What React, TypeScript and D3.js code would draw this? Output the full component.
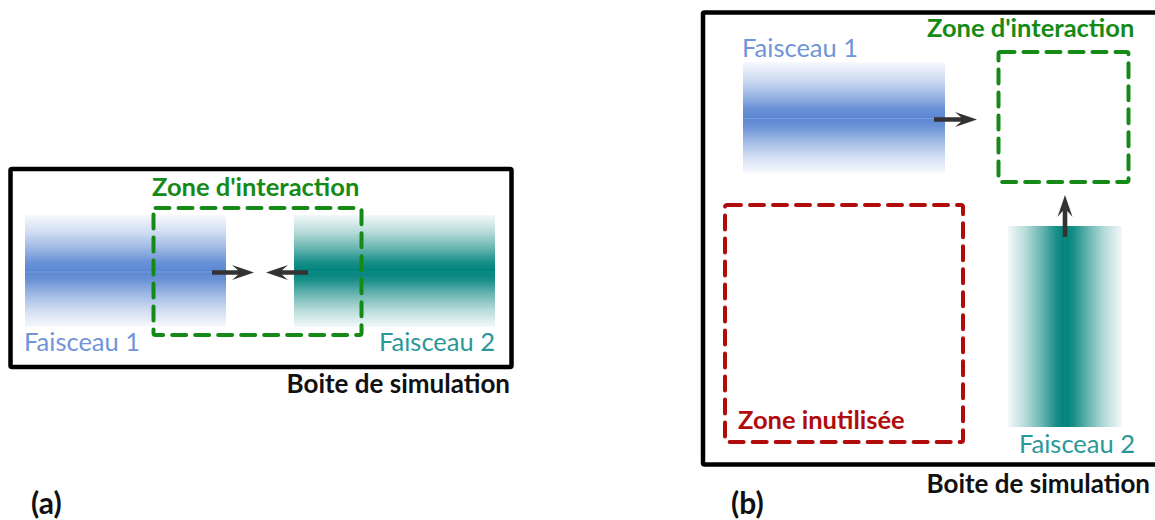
import React from "react";
import * as d3 from "d3";

// Labels / content
const panelLabels = ["(a)", "(b)"];
const beamNames = ["Faisceau 1", "Faisceau 2"];
const zoneLabels = ["Zone d'interaction", "Zone inutilisée"];
const boxLabel = "Boite de simulation";
const beamColors = ["#5a86d2", "#00827c"];
const beamTextColors = ["#6f95d8", "#2a9898"];
const green = "#168a16";
const red = "#b00c0c";
const arrowColor = "#333333";
// Gaussian-ish profile of the beams (opacity across width)
const profileOffsets = [0, 0.15, 0.3, 0.42, 0.5, 0.58, 0.7, 0.85, 1];
const profileOpacity = [0.05, 0.28, 0.6, 0.9, 1, 0.9, 0.6, 0.28, 0.05];

const W = 1155;
const H = 520;
const font = "Lato, 'Open Sans', sans-serif";

function arrowPath(x0: number, y0: number, x1: number, y1: number) {
  const len = Math.hypot(x1 - x0, y1 - y0);
  const a = Math.atan2(y1 - y0, x1 - x0);
  const hl = 22, hw = 7.5, notch = 6, sw = 2.3;
  const pts: [number, number][] = [
    [0, -sw], [len - hl + notch, -sw], [len - hl, -hw], [len, 0],
    [len - hl, hw], [len - hl + notch, sw], [0, sw],
  ];
  const rot = pts.map(([u, v]) => [
    x0 + u * Math.cos(a) - v * Math.sin(a),
    y0 + u * Math.sin(a) + v * Math.cos(a),
  ] as [number, number]);
  return d3.line()(rot) + "Z";
}

function Stops({ color }: { color: string }) {
  return (
    <>
      {profileOffsets.map((o, i) => (
        <stop key={i} offset={o} stopColor={color} stopOpacity={profileOpacity[i]} />
      ))}
    </>
  );
}

export default function App() {
  const dash = "14 9";
  const zf = 25.5, bf = 25.5, lf = 26, pf = 30;
  return (
    <svg width={W} height={H} style={{ position: "absolute", left: 0, top: 0, background: "#fff" }}
      fontFamily={font}>
      <defs>
        <linearGradient id="blueH" x1="0" y1="0" x2="0" y2="1"><Stops color={beamColors[0]} /></linearGradient>
        <linearGradient id="tealH" x1="0" y1="0" x2="0" y2="1"><Stops color={beamColors[1]} /></linearGradient>
        <linearGradient id="tealV" x1="0" y1="0" x2="1" y2="0"><Stops color={beamColors[1]} /></linearGradient>
      </defs>
      <rect width={W} height={H} fill="#fff" />

      {/* ===== Panel (a) ===== */}
      <rect x={10.5} y={169} width={501} height={198} fill="none" stroke="#000" strokeWidth={4.5} rx={1.5} />
      <rect x={25} y={215} width={201} height={112} fill="url(#blueH)" />
      <line x1={25} x2={226} y1={272} y2={272} stroke="#8fb0e6" strokeWidth={0.8} opacity={0.7} />
      <rect x={294} y={215} width={201} height={112} fill="url(#tealH)" />
      <line x1={294} x2={495} y1={272} y2={272} stroke="#2a9a94" strokeWidth={0.8} opacity={0.7} />
      <rect x={153.5} y={208} width={208} height={127} fill="none" stroke={green} strokeWidth={4}
        strokeDasharray={dash} strokeLinecap="round" rx={2} />
      <text x={152} y={196} fill={green} fontSize={zf} fontWeight="bold">{zoneLabels[0]}</text>
      <path d={arrowPath(212, 272.5, 254, 272.5)} fill={arrowColor} />
      <path d={arrowPath(308, 272.5, 266, 272.5)} fill={arrowColor} />
      <text x={24} y={351} fill={beamTextColors[0]} fontSize={bf}>{beamNames[0]}</text>
      <text x={495} y={351} fill={beamTextColors[1]} fontSize={bf} textAnchor="end">{beamNames[1]}</text>
      <text x={510} y={393} fill="#111" fontSize={lf} fontWeight="bold" textAnchor="end">{boxLabel}</text>
      <text x={31} y={514} fill="#111" fontSize={pf} fontWeight="bold">{panelLabels[0]}</text>

      {/* ===== Panel (b) ===== */}
      <rect x={703} y={12.5} width={470} height={452} fill="none" stroke="#000" strokeWidth={4.5} rx={1.5} />
      <rect x={743} y={62} width={202} height={111} fill="url(#blueH)" />
      <line x1={743} x2={945} y1={118.5} y2={118.5} stroke="#8fb0e6" strokeWidth={0.8} opacity={0.7} />
      <text x={742} y={57} fill={beamTextColors[0]} fontSize={bf}>{beamNames[0]}</text>
      <path d={arrowPath(934, 119.5, 977, 119.5)} fill={arrowColor} />
      <rect x={998.5} y={52} width={130} height={130} fill="none" stroke={green} strokeWidth={4}
        strokeDasharray={dash} strokeLinecap="round" rx={2} />
      <text x={927} y={37} fill={green} fontSize={zf} fontWeight="bold">{zoneLabels[0]}</text>
      <rect x={725} y={205} width={238} height={237} fill="none" stroke={red} strokeWidth={4}
        strokeDasharray={dash} strokeLinecap="round" rx={2} />
      <text x={738} y={429} fill={red} fontSize={zf} fontWeight="bold">{zoneLabels[1]}</text>
      <rect x={1008} y={226} width={114} height={201} fill="url(#tealV)" />
      <line x1={1065} x2={1065} y1={226} y2={427} stroke="#2a9a94" strokeWidth={0.8} opacity={0.7} />
      <path d={arrowPath(1065, 237, 1065, 195)} fill={arrowColor} />
      <text x={1135} y={453} fill={beamTextColors[1]} fontSize={bf} textAnchor="end">{beamNames[1]}</text>
      <text x={1150} y={493} fill="#111" fontSize={lf} fontWeight="bold" textAnchor="end">{boxLabel}</text>
      <text x={731} y={514} fill="#111" fontSize={pf} fontWeight="bold">{panelLabels[1]}</text>
    </svg>
  );
}
